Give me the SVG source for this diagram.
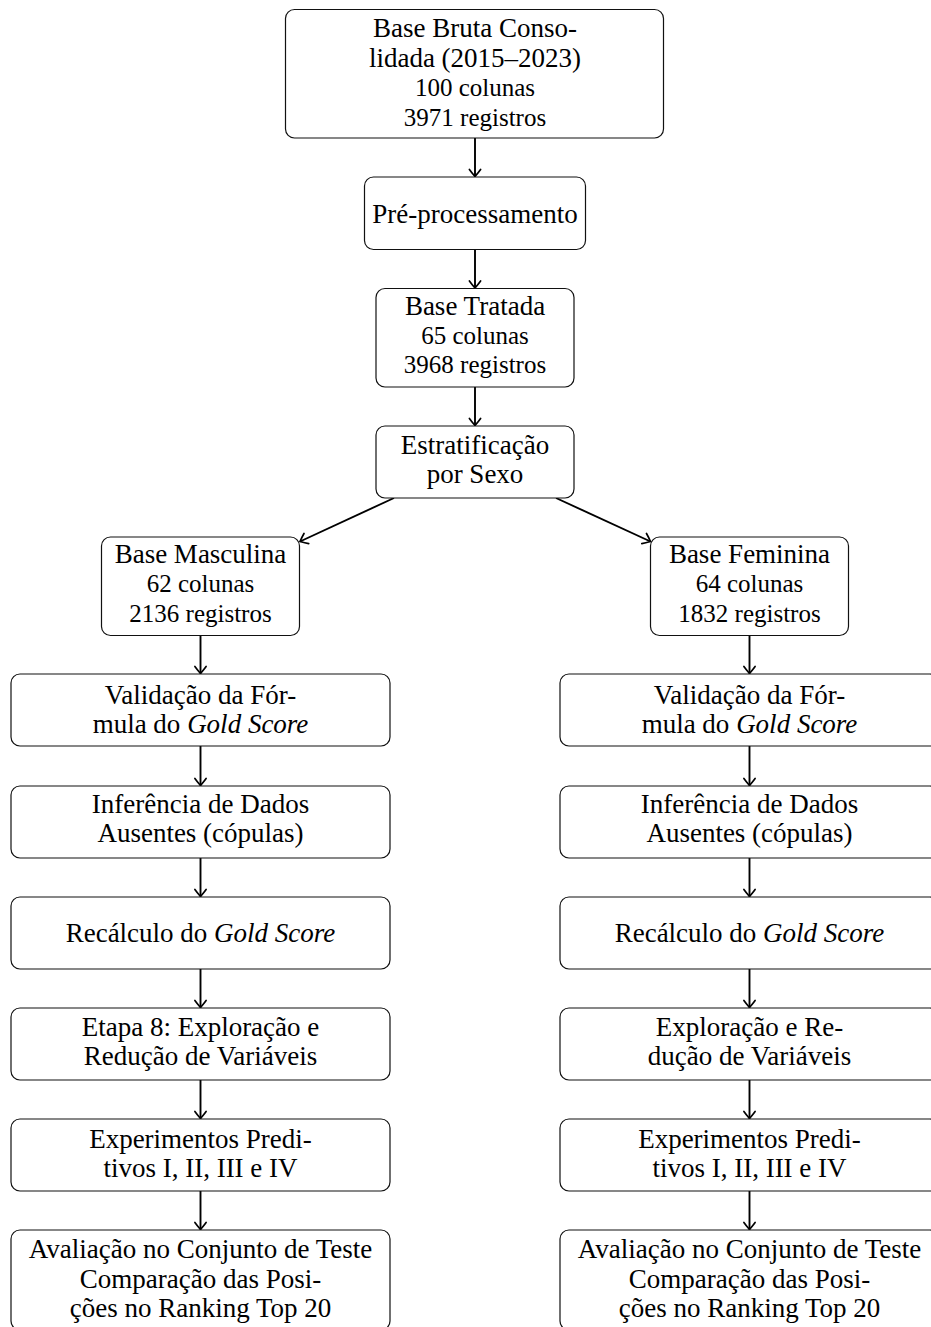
<svg xmlns="http://www.w3.org/2000/svg" width="931" height="1327" viewBox="0 0 931 1327">
  <defs>
    <marker id="tip" markerUnits="userSpaceOnUse" viewBox="-9 -7 11 14" refX="0" refY="0" markerWidth="11" markerHeight="14" orient="auto" overflow="visible">
      <path d="M -7,-5.6 C -4.6,-3.9 -1.5,-1.3 0,0 C -1.5,1.3 -4.6,3.9 -7,5.6" fill="none" stroke="#000" stroke-width="1.7" stroke-linecap="round"/>
    </marker>
  </defs>
  <style>
    rect.box { fill: #fff; stroke: #111; stroke-width: 1.2; }
    text { font-family: "Liberation Serif", "Times New Roman", serif; fill: #000; text-anchor: middle; }
    .l { font-size: 27px; }
    .s { font-size: 25px; }
    .it { font-style: italic; }
    #connectors line { stroke: #000; stroke-width: 1.9; marker-end: url(#tip); }
  </style>
  <rect width="931" height="1327" fill="#fff"/>

  <!-- connectors -->
  <g id="connectors">
    <line x1="475" y1="138" x2="475" y2="176.5"/>
    <line x1="475" y1="249.5" x2="475" y2="288"/>
    <line x1="475" y1="387" x2="475" y2="425.5"/>
    <line x1="394" y1="498" x2="300" y2="541.5"/>
    <line x1="556" y1="498" x2="650.5" y2="541.5"/>
    <!-- left branch -->
    <line x1="200.5" y1="635.5" x2="200.5" y2="673.5"/>
    <line x1="200.5" y1="746" x2="200.5" y2="785.5"/>
    <line x1="200.5" y1="858" x2="200.5" y2="896.5"/>
    <line x1="200.5" y1="969" x2="200.5" y2="1007.5"/>
    <line x1="200.5" y1="1080" x2="200.5" y2="1118.5"/>
    <line x1="200.5" y1="1191" x2="200.5" y2="1229.5"/>
    <!-- right branch -->
    <line x1="749.5" y1="635.5" x2="749.5" y2="673.5"/>
    <line x1="749.5" y1="746" x2="749.5" y2="785.5"/>
    <line x1="749.5" y1="858" x2="749.5" y2="896.5"/>
    <line x1="749.5" y1="969" x2="749.5" y2="1007.5"/>
    <line x1="749.5" y1="1080" x2="749.5" y2="1118.5"/>
    <line x1="749.5" y1="1191" x2="749.5" y2="1229.5"/>
  </g>

  <!-- main trunk -->
  <g id="base-bruta">
    <rect class="box" x="285.5" y="9.5" width="378" height="128.5" rx="9"/>
    <text class="l" x="475" y="36.5">Base Bruta Conso-</text>
    <text class="l" x="475" y="66.5">lidada (2015–2023)</text>
    <text class="s" x="475" y="96">100 colunas</text>
    <text class="s" x="475" y="125.5">3971 registros</text>
  </g>
  <g id="pre-processamento">
    <rect class="box" x="364.5" y="177" width="221" height="72.5" rx="9"/>
    <text class="l" x="475" y="222.5">Pré-processamento</text>
  </g>
  <g id="base-tratada">
    <rect class="box" x="376" y="288.5" width="198" height="98.5" rx="9"/>
    <text class="l" x="475" y="315">Base Tratada</text>
    <text class="s" x="475" y="344">65 colunas</text>
    <text class="s" x="475" y="373">3968 registros</text>
  </g>
  <g id="estratificacao">
    <rect class="box" x="376" y="426" width="198" height="72" rx="9"/>
    <text class="l" x="475" y="453.5">Estratificação</text>
    <text class="l" x="475" y="483">por Sexo</text>
  </g>

  <!-- male branch -->
  <g id="base-masculina">
    <rect class="box" x="101.5" y="537" width="198" height="98.5" rx="9"/>
    <text class="l" x="200.5" y="563">Base Masculina</text>
    <text class="s" x="200.5" y="592">62 colunas</text>
    <text class="s" x="200.5" y="622">2136 registros</text>
  </g>
  <g id="m-validacao">
    <rect class="box" x="11" y="674" width="379" height="72" rx="9"/>
    <text class="l" x="200.5" y="704">Validação da Fór-</text>
    <text class="l" x="200.5" y="733">mula do <tspan class="it">Gold Score</tspan></text>
  </g>
  <g id="m-inferencia">
    <rect class="box" x="11" y="786" width="379" height="72" rx="9"/>
    <text class="l" x="200.5" y="813">Inferência de Dados</text>
    <text class="l" x="200.5" y="842">Ausentes (cópulas)</text>
  </g>
  <g id="m-recalculo">
    <rect class="box" x="11" y="897" width="379" height="72" rx="9"/>
    <text class="l" x="200.5" y="942">Recálculo do <tspan class="it">Gold Score</tspan></text>
  </g>
  <g id="m-exploracao">
    <rect class="box" x="11" y="1008" width="379" height="72" rx="9"/>
    <text class="l" x="200.5" y="1036">Etapa 8: Exploração e</text>
    <text class="l" x="200.5" y="1065">Redução de Variáveis</text>
  </g>
  <g id="m-experimentos">
    <rect class="box" x="11" y="1119" width="379" height="72" rx="9"/>
    <text class="l" x="200.5" y="1148">Experimentos Predi-</text>
    <text class="l" x="200.5" y="1177">tivos I, II, III e IV</text>
  </g>
  <g id="m-avaliacao">
    <rect class="box" x="11" y="1230" width="379" height="100" rx="9"/>
    <text class="l" x="200.5" y="1258">Avaliação no Conjunto de Teste</text>
    <text class="l" x="200.5" y="1288">Comparação das Posi-</text>
    <text class="l" x="200.5" y="1317">ções no Ranking Top 20</text>
  </g>

  <!-- female branch -->
  <g id="base-feminina">
    <rect class="box" x="650.5" y="537" width="198" height="98.5" rx="9"/>
    <text class="l" x="749.5" y="563">Base Feminina</text>
    <text class="s" x="749.5" y="592">64 colunas</text>
    <text class="s" x="749.5" y="622">1832 registros</text>
  </g>
  <g id="f-validacao">
    <rect class="box" x="560" y="674" width="379" height="72" rx="9"/>
    <text class="l" x="749.5" y="704">Validação da Fór-</text>
    <text class="l" x="749.5" y="733">mula do <tspan class="it">Gold Score</tspan></text>
  </g>
  <g id="f-inferencia">
    <rect class="box" x="560" y="786" width="379" height="72" rx="9"/>
    <text class="l" x="749.5" y="813">Inferência de Dados</text>
    <text class="l" x="749.5" y="842">Ausentes (cópulas)</text>
  </g>
  <g id="f-recalculo">
    <rect class="box" x="560" y="897" width="379" height="72" rx="9"/>
    <text class="l" x="749.5" y="942">Recálculo do <tspan class="it">Gold Score</tspan></text>
  </g>
  <g id="f-exploracao">
    <rect class="box" x="560" y="1008" width="379" height="72" rx="9"/>
    <text class="l" x="749.5" y="1036">Exploração e Re-</text>
    <text class="l" x="749.5" y="1065">dução de Variáveis</text>
  </g>
  <g id="f-experimentos">
    <rect class="box" x="560" y="1119" width="379" height="72" rx="9"/>
    <text class="l" x="749.5" y="1148">Experimentos Predi-</text>
    <text class="l" x="749.5" y="1177">tivos I, II, III e IV</text>
  </g>
  <g id="f-avaliacao">
    <rect class="box" x="560" y="1230" width="379" height="100" rx="9"/>
    <text class="l" x="749.5" y="1258">Avaliação no Conjunto de Teste</text>
    <text class="l" x="749.5" y="1288">Comparação das Posi-</text>
    <text class="l" x="749.5" y="1317">ções no Ranking Top 20</text>
  </g>
</svg>
